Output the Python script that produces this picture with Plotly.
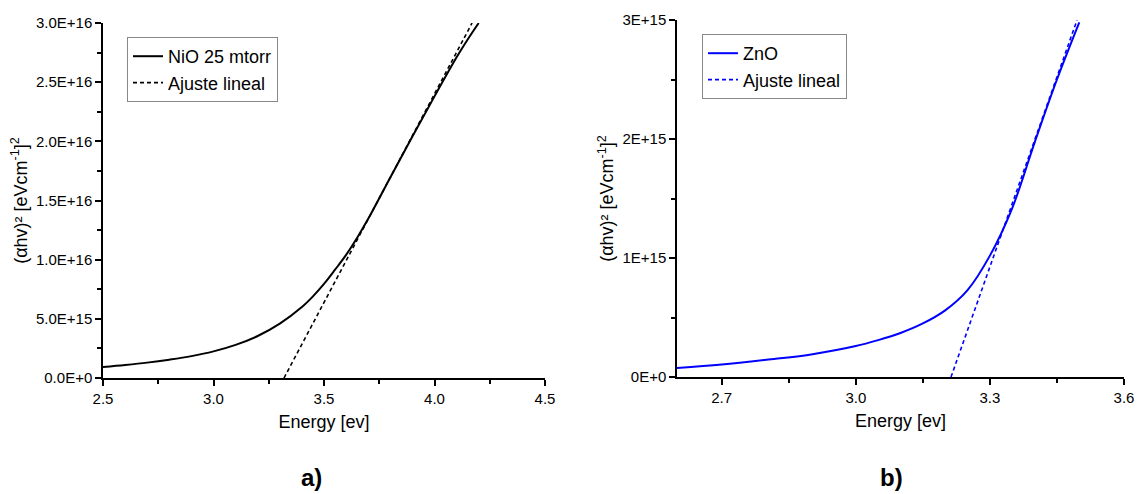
import plotly.graph_objects as go

# ---- data: NiO 25 mtorr (panel a) ----
nio_energy = [2.5, 2.6, 2.7, 2.8, 2.9, 3.0, 3.1, 3.2, 3.3, 3.4, 3.45, 3.5, 3.55, 3.6, 3.65,
              3.7, 3.8, 3.9, 4.0, 4.1, 4.15, 4.2]
nio_abs = [0.93e15, 1.1e15, 1.3e15, 1.55e15, 1.85e15, 2.25e15, 2.8e15, 3.55e15, 4.6e15, 6.0e15,
           6.9e15, 7.95e15, 9.15e15, 10.4e15, 11.85e15, 13.45e15, 16.95e15, 20.4e15, 23.8e15,
           27.1e15, 28.6e15, 30.0e15]
nio_fit_energy = [3.319, 4.17]
nio_fit_abs = [0.0, 3.0e16]

# ---- data: ZnO (panel b) ----
zno_energy = [2.6, 2.7, 2.8, 2.9, 3.0, 3.05, 3.1, 3.15, 3.2, 3.25, 3.3, 3.35, 3.4, 3.45, 3.5]
zno_abs = [0.075e15, 0.105e15, 0.145e15, 0.19e15, 0.26e15, 0.31e15, 0.37e15, 0.45e15, 0.56e15,
           0.73e15, 1.02e15, 1.42e15, 1.97e15, 2.5e15, 2.98e15]
zno_fit_energy = [3.213, 3.495]
zno_fit_abs = [0.0, 3.0e15]

left_yticks = [0, 5e15, 1e16, 1.5e16, 2e16, 2.5e16, 3e16]
left_yticktext = ["0.0E+0", "5.0E+15", "1.0E+16", "1.5E+16", "2.0E+16", "2.5E+16", "3.0E+16"]
left_xticks = [2.5, 3.0, 3.5, 4.0, 4.5]
left_xticktext = ["2.5", "3.0", "3.5", "4.0", "4.5"]
right_yticks = [0, 1e15, 2e15, 3e15]
right_yticktext = ["0E+0", "1E+15", "2E+15", "3E+15"]
right_xticks = [2.7, 3.0, 3.3, 3.6]
right_xticktext = ["2.7", "3.0", "3.3", "3.6"]

FONT = "Liberation Sans, Arial, sans-serif"
W, H = 1140, 494

fig = go.Figure()
fig.add_trace(go.Scatter(x=nio_energy, y=nio_abs, mode="lines", name="NiO 25 mtorr",
                         line=dict(color="black", width=2, shape="spline"),
                         xaxis="x", yaxis="y", legend="legend"))
fig.add_trace(go.Scatter(x=nio_fit_energy, y=nio_fit_abs, mode="lines", name="Ajuste lineal",
                         line=dict(color="black", width=1.6, dash="4px,3px"),
                         xaxis="x", yaxis="y", legend="legend"))
fig.add_trace(go.Scatter(x=zno_energy, y=zno_abs, mode="lines", name="ZnO",
                         line=dict(color="#0000ff", width=2, shape="spline"),
                         xaxis="x2", yaxis="y2", legend="legend2"))
fig.add_trace(go.Scatter(x=zno_fit_energy, y=zno_fit_abs, mode="lines", name="Ajuste lineal",
                         line=dict(color="#0000ff", width=1.6, dash="4px,3px"),
                         xaxis="x2", yaxis="y2", legend="legend2"))

def px_x(p):
    return p / W

def px_y(p):
    return 1 - p / H

common_axis = dict(showline=True, linecolor="black", linewidth=1.5, ticks="outside",
                   ticklen=6, tickwidth=1.5, tickcolor="black", showgrid=False, zeroline=False,
                   tickfont=dict(family=FONT, size=15, color="black"), mirror=False,
                   automargin=False)

ytitle = "(αhv)² [eVcm<sup>-1</sup>]<sup>2</sup>"
minor_style = dict(ticks="outside", ticklen=4, tickwidth=1.5, tickcolor="black")
legend_style = dict(xanchor="left", yanchor="top", bgcolor="white", bordercolor="#888888",
                    borderwidth=1, font=dict(size=18, family=FONT, color="black"),
                    tracegroupgap=0, itemwidth=30)

fig.update_layout(
    width=W, height=H, margin=dict(l=0, r=0, t=0, b=0, autoexpand=False),
    paper_bgcolor="white", plot_bgcolor="white",
    font=dict(family=FONT, color="black"),
    xaxis=dict(domain=[px_x(103), px_x(545)], range=[2.5, 4.5], anchor="y",
               tickvals=left_xticks, ticktext=left_xticktext,
               minor=dict(dtick=0.25, tick0=2.5, **minor_style),
               title=dict(text="Energy [ev]", font=dict(size=18, family=FONT), standoff=10),
               **common_axis),
    yaxis=dict(domain=[px_y(378), px_y(23)], range=[0, 3e16], anchor="x",
               tickvals=left_yticks, ticktext=left_yticktext,
               minor=dict(dtick=2.5e15, tick0=0, **minor_style),
               title=dict(text=ytitle, font=dict(size=18, family=FONT), standoff=4),
               **common_axis),
    xaxis2=dict(domain=[px_x(677), px_x(1124)], range=[2.6, 3.6], anchor="y2",
                tickvals=right_xticks, ticktext=right_xticktext,
                minor=dict(dtick=0.15, tick0=2.7, **minor_style),
                title=dict(text="Energy [ev]", font=dict(size=18, family=FONT), standoff=10),
                **common_axis),
    yaxis2=dict(domain=[px_y(377), px_y(20)], range=[0, 3e15], anchor="x2",
                tickvals=right_yticks, ticktext=right_yticktext,
                minor=dict(dtick=5e14, tick0=0, **minor_style),
                title=dict(text=ytitle, font=dict(size=18, family=FONT), standoff=4),
                **common_axis),
    legend=dict(x=px_x(127), y=px_y(37), **legend_style),
    legend2=dict(x=px_x(702), y=px_y(34), **legend_style),
    showlegend=True,
    annotations=[
        dict(text="<b>a)</b>", x=px_x(311), y=px_y(477), xref="paper", yref="paper",
             xanchor="center", yanchor="middle",
             showarrow=False, font=dict(size=24, family=FONT, color="black")),
        dict(text="<b>b)</b>", x=px_x(891), y=px_y(477), xref="paper", yref="paper",
             xanchor="center", yanchor="middle",
             showarrow=False, font=dict(size=24, family=FONT, color="black")),
    ],
)

fig.write_html("out.html")
